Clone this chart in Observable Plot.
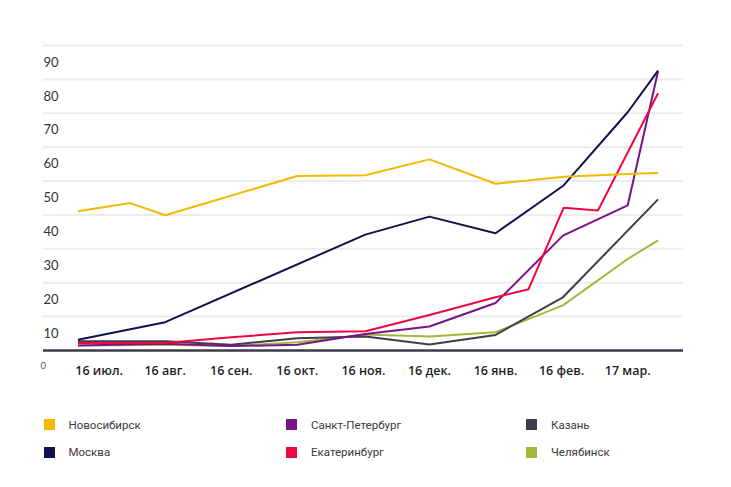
<!DOCTYPE html>
<html><head><meta charset="utf-8">
<script src="https://cdn.jsdelivr.net/npm/d3@7"></script>
<script src="https://cdn.jsdelivr.net/npm/@observablehq/plot@0.6"></script>
<style>
body{margin:0;background:#fff;font-family:Roboto,"Noto Sans",sans-serif;}
#chart svg{display:block}
#legend{position:relative;width:731px;height:92px;}
.item{position:absolute;display:flex;align-items:center;height:14px;font-size:11.5px;color:#3a3a3a;font-family:Roboto,sans-serif;}
.sw{width:11px;height:11px;margin-right:14px;flex:none}
</style></head><body>
<div id="chart"></div><div id="legend"></div>
<script>
// tick labels
const monthLabels = ["16 июл.", "16 авг.", "16 сен.", "16 окт.", "16 ноя.", "16 дек.", "16 янв.", "16 фев.", "17 мар."];
const monthTicks = [0, 1, 2, 3, 4, 5, 6, 7, 8];
const yTicks = [10, 20, 30, 40, 50, 60, 70, 80, 90];

// series
const seriesNames = ["Новосибирск", "Москва", "Санкт-Петербург", "Екатеринбург", "Казань", "Челябинск"];
const seriesColors = ["#f2b900", "#10124f", "#7a128a", "#ef0742", "#3f3d4a", "#a1b83b"];

const tNovosibirsk = [-0.32, 0.47, 1, 3, 4.03, 5, 6, 7.03, 8, 8.46];
const vNovosibirsk = [41.1, 43.5, 39.9, 51.5, 51.7, 56.4, 49.2, 51.3, 52.1, 52.4];
const tMoskva = [-0.32, 1, 4.03, 5, 6, 7.03, 8, 8.46];
const vMoskva = [3.2, 8.35, 34.2, 39.5, 34.6, 48.7, 70.3, 82.6];
const tSpb = [-0.32, 1, 2, 3, 4.03, 5, 6, 7.02, 8, 8.46];
const vSpb = [1.5, 2.0, 1.3, 1.7, 4.9, 7.1, 14.0, 33.9, 42.8, 82.4];
const tEkb = [-0.32, 1, 2, 3, 4.03, 5, 6, 6.5, 7.03, 7.55, 8.46];
const vEkb = [2.2, 2.2, 3.9, 5.4, 5.7, 10.5, 15.7, 18.1, 42.1, 41.3, 75.9];
const tKazan = [-0.32, 1, 2, 3, 4.03, 5, 6, 7.02, 8.46];
const vKazan = [2.7, 2.7, 1.7, 3.6, 4.1, 1.8, 4.6, 15.7, 44.6];
const tChel = [-0.32, 1, 2, 3, 4.03, 5, 6, 7.02, 8, 8.46];
const vChel = [1.5, 1.7, 1.3, 2.4, 4.7, 4.1, 5.4, 13.3, 27.0, 32.5];

const seriesT = [tNovosibirsk, tMoskva, tSpb, tEkb, tKazan, tChel];
const seriesV = [vNovosibirsk, vMoskva, vSpb, vEkb, vKazan, vChel];
const drawOrder = [5, 4, 2, 3, 1, 0];

const rows = [];
for (const s of drawOrder) {
  seriesT[s].forEach((t, i) => rows.push({name: seriesNames[s], t, v: seriesV[s][i]}));
}

const chart = Plot.plot({
  width: 731,
  height: 395,
  marginLeft: 43,
  marginRight: 48,
  marginTop: 45,
  marginBottom: 45,
  style: {fontFamily: "'Open Sans', sans-serif", background: "#fff"},
  x: {domain: [-0.8415, 8.845]},
  y: {domain: [0, 90]},
  color: {domain: seriesNames, range: seriesColors},
  marks: [
    Plot.gridY(yTicks, {stroke: "#ececec", strokeOpacity: 1, strokeWidth: 2}),
    Plot.axisY(yTicks, {tickSize: 0, tickPadding: 0, textAnchor: "start", dy: 17, fontSize: 13, fill: "#333", fontFamily: "Lato, sans-serif", label: null}),
    Plot.axisY([0], {tickSize: 0, tickPadding: 0, textAnchor: "start", dx: -3, dy: 15, fontSize: 9.5, fill: "#555", fontFamily: "Lato, sans-serif", label: null}),
    Plot.axisX(monthTicks, {tickSize: 0, tickPadding: 16, tickFormat: i => monthLabels[i], fontSize: 12.5, fontWeight: 600, fill: "#1e1e1e", label: null}),
    Plot.line(rows, {x: "t", y: "v", z: "name", stroke: "name", strokeWidth: 2, strokeLinejoin: "miter", strokeLinecap: "butt"}),
    Plot.ruleY([0], {stroke: "#3d3b48", strokeWidth: 2.5})
  ]
});
document.getElementById("chart").append(chart);

// legend (HTML below the SVG)
const legendCols = [43.5, 286, 526];
const legendRows = [22.7, 50];
const legend = document.getElementById("legend");
seriesNames.forEach((n, i) => {
  const col = Math.floor(i / 2), row = i % 2;
  const d = document.createElement("div");
  d.className = "item";
  d.style.left = legendCols[col] + "px";
  d.style.top = legendRows[row] + "px";
  const sw = document.createElement("span");
  sw.className = "sw";
  sw.style.background = seriesColors[i];
  const tx = document.createElement("span");
  tx.textContent = n;
  d.append(sw, tx);
  legend.append(d);
});
</script>
</body></html>
